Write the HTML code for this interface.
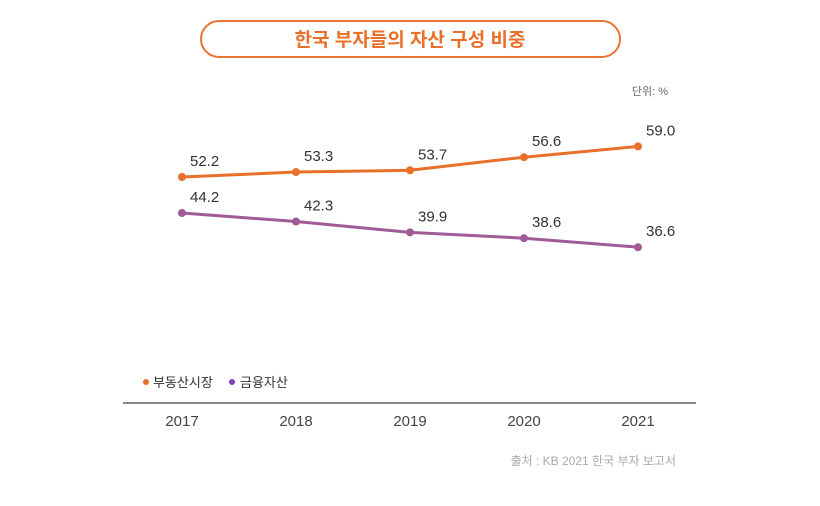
<!DOCTYPE html>
<html><head><meta charset="utf-8"><style>
body{margin:0;background:#fff;font-family:"Liberation Sans","Noto Sans CJK KR",sans-serif;}
#wrap{position:relative;width:820px;height:506px;overflow:hidden}
</style></head><body>
<div id="wrap">
<svg id="chart" width="820" height="506">
<rect x="201" y="21" width="419" height="36" rx="18" fill="#fff" stroke="#ea7530" stroke-width="2"/>
<text x="410" y="46" text-anchor="middle" font-size="19" font-weight="bold" fill="#e8702a">한국 부자들의 자산 구성 비중</text>
<text x="668" y="95" text-anchor="end" font-size="11" fill="#666">단위: %</text>
<line x1="123" y1="403" x2="696" y2="403" stroke="#888" stroke-width="2"/>
<circle cx="146" cy="382" r="3" fill="#e8702a"/>
<text x="153" y="387" font-size="13" fill="#333">부동산시장</text>
<circle cx="232" cy="382" r="3" fill="#7b3fc4"/>
<text x="240" y="387" font-size="13" fill="#333">금융자산</text>
<text x="676" y="465" text-anchor="end" font-size="12" fill="#aaa">출처 : KB 2021 한국 부자 보고서</text>
<g id="marks"></g>
</svg>
</div>
<script>
const years = ["2017","2018","2019","2020","2021"];
const realEstate = [52.2, 53.3, 53.7, 56.6, 59.0];
const financial = [44.2, 42.3, 39.9, 38.6, 36.6];
const labels1 = ["52.2","53.3","53.7","56.6","59.0"];
const labels2 = ["44.2","42.3","39.9","38.6","36.6"];
const NS="http://www.w3.org/2000/svg";
const g=document.getElementById('marks');
function xs(i){return 182+i*114;}
function ys(v){return 411.9-4.5*v;}
function mk(t,a){const e=document.createElementNS(NS,t);for(const k in a)e.setAttribute(k,a[k]);g.appendChild(e);return e;}
function series(vals,labs,color,name){
  const pl=mk('polyline',{points:vals.map((v,i)=>xs(i)+','+ys(v)).join(' '),fill:'none',stroke:color,'stroke-width':3});
  
  
  vals.forEach((v,i)=>{
    const c=mk('circle',{cx:xs(i),cy:ys(v),r:4,fill:color});
    
    
    const t=mk('text',{x:xs(i)+8,y:ys(v)-11,'font-size':15,fill:'#333'});
    t.textContent=labs[i];
    
    
  });
}
series(realEstate,labels1,'#e8702a','real-estate');
series(financial,labels2,'#a05a96','financial');
years.forEach((y,i)=>{
  const t=mk('text',{x:xs(i),y:426,'text-anchor':'middle','font-size':15,fill:'#444'});
  t.textContent=y;
  
  
});
</script>
</body></html>
